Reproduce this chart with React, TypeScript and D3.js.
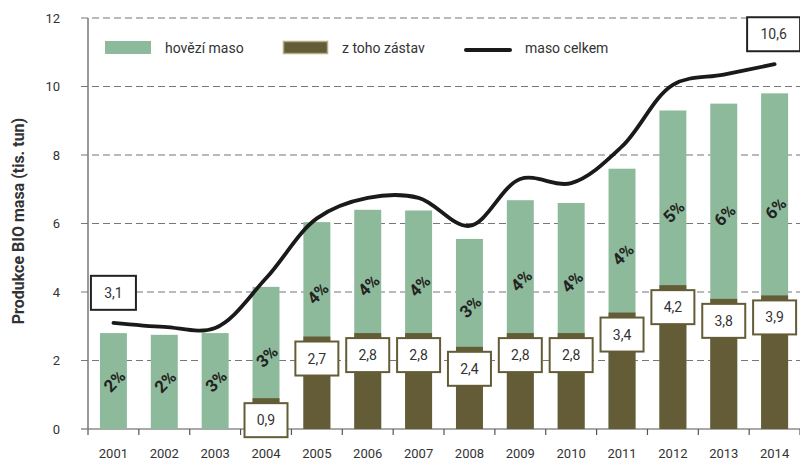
import React from "react";
import * as d3 from "d3";

const years = ["2001","2002","2003","2004","2005","2006","2007","2008","2009","2010","2011","2012","2013","2014"];
const beef = [2.8, 2.75, 2.8, 4.15, 6.04, 6.4, 6.38, 5.55, 6.68, 6.6, 7.6, 9.3, 9.5, 9.8];
const cows = [0, 0, 0, 0.9, 2.7, 2.8, 2.8, 2.4, 2.8, 2.8, 3.4, 4.2, 3.8, 3.9];
const cowLabels = ["", "", "", "0,9", "2,7", "2,8", "2,8", "2,4", "2,8", "2,8", "3,4", "4,2", "3,8", "3,9"];
const totalMeat = [3.1, 2.98, 2.95, 4.4, 6.15, 6.75, 6.75, 5.93, 7.3, 7.18, 8.25, 10.05, 10.35, 10.65];
const totalLabels = [{ i: 0, text: "3,1" }, { i: 13, text: "10,6" }];
const shares = ["2%", "2%", "3%", "3%", "4%", "4%", "4%", "3%", "4%", "4%", "4%", "5%", "6%", "6%"];
const yTicks = [0, 2, 4, 6, 8, 10, 12];

const GREEN = "#8dba9b";
const OLIVE = "#635c36";
const FONT = "Roboto, 'DejaVu Sans', sans-serif";

export default function App() {
  const W = 800, H = 461;
  const left = 88, right = 800, top = 18, bottom = 429;
  const x = d3.scaleBand<string>().domain(years).range([left, left + 14 * 50.86]).paddingInner(0.47).paddingOuter(0.235);
  const y = d3.scaleLinear().domain([0, 12]).range([bottom, top]);
  const cx = (i: number) => (x(years[i]) as number) + x.bandwidth() / 2;
  const bandStep = x.step();

  const line = d3.line<number>()
    .x((_, i) => cx(i))
    .y((d) => y(d))
    .curve(d3.curveCatmullRom.alpha(0.5));

  return (
    <svg width={W} height={H} style={{ position: "absolute", left: 0, top: 0, background: "#fff" }} fontFamily={FONT}>
      {/* grid */}
      {yTicks.map((t) => (
        <g key={t}>
          <line x1={81} x2={right} y1={y(t)} y2={y(t)} stroke={t === 0 ? "#555" : "#777"} strokeWidth={1.2} strokeDasharray={t === 0 ? undefined : "7,4"} />
          <text x={60} y={y(t) + 4.5} textAnchor="end" fontSize={13} fill="#333">{t}</text>
        </g>
      ))}
      <line x1={left} x2={left} y1={top} y2={bottom + 6} stroke="#777" strokeWidth={1.5} />
      {years.map((yr, i) => (
        <g key={yr}>
          <line x1={left + (i + 1) * bandStep} x2={left + (i + 1) * bandStep} y1={bottom} y2={bottom + 6} stroke="#555" strokeWidth={1.2} />
          <text x={cx(i)} y={458} textAnchor="middle" fontSize={13} fill="#333">{yr}</text>
        </g>
      ))}

      {/* bars */}
      {years.map((yr, i) => (
        <g key={"b" + yr}>
          <rect x={x(yr)} width={x.bandwidth()} y={y(beef[i])} height={y(0) - y(beef[i])} fill={GREEN} />
          {cows[i] > 0 && (
            <rect x={x(yr)} width={x.bandwidth()} y={y(cows[i])} height={y(0) - y(cows[i])} fill={OLIVE} />
          )}
        </g>
      ))}

      {/* share labels */}
      {years.map((yr, i) => {
        const mid = (y(cows[i]) + y(beef[i])) / 2 + (cows[i] > 0 ? 14 : 0);
        return (
          <text key={"s" + yr} transform={`translate(${cx(i) + 1},${mid}) rotate(-45)`} textAnchor="middle" dy="0.35em" fontSize={17} fontWeight="bold" fill="#222">
            {shares[i]}
          </text>
        );
      })}

      {/* cow label boxes */}
      {years.map((yr, i) => {
        if (!cowLabels[i]) return null;
        const bw = 43, bh = 34;
        const by = y(cows[i]) + 5;
        return (
          <g key={"c" + yr}>
            <rect x={cx(i) - bw / 2} y={by} width={bw} height={bh} fill="#fff" stroke={OLIVE} strokeWidth={2} />
            <text x={cx(i)} y={by + bh / 2 + 5} textAnchor="middle" fontSize={14} fill="#333">{cowLabels[i]}</text>
          </g>
        );
      })}

      {/* total line */}
      <path d={line(totalMeat) || ""} fill="none" stroke="#1a1a1a" strokeWidth={3.8} strokeLinecap="round" />

      {totalLabels.map((l) => {
        const bw = l.text.length > 3 ? 53 : 45, bh = 34;
        const bcx = cx(l.i) - (l.i === 13 ? 1 : 0);
        const bcy = y(totalMeat[l.i]) - 30;
        return (
          <g key={"t" + l.i}>
            <rect x={bcx - bw / 2} y={bcy - bh / 2} width={bw} height={bh} fill="#fff" stroke="#222" strokeWidth={2} />
            <text x={bcx} y={bcy + 5} textAnchor="middle" fontSize={14} fill="#333">{l.text}</text>
          </g>
        );
      })}

      {/* legend */}
      <rect x={105} y={41} width={46} height={13} fill={GREEN} />
      <text x={165} y={52.5} fontSize={14} fill="#333">hovězí maso</text>
      <rect x={283.5} y={41.5} width={44} height={12} fill={OLIVE} stroke="#b3ad86" strokeWidth={1.5} />
      <text x={342} y={52.5} fontSize={14} fill="#333">z toho zástav</text>
      <line x1={466} x2={510} y1={50} y2={50} stroke="#1a1a1a" strokeWidth={4} strokeLinecap="round" />
      <text x={525} y={52.5} fontSize={14} fill="#333">maso celkem</text>

      {/* y axis title */}
      <text transform={`translate(24,221) rotate(-90)`} textAnchor="middle" fontSize={16} fontWeight="bold" fill="#333">
        Produkce  BIO masa (tis. tun)
      </text>
    </svg>
  );
}
